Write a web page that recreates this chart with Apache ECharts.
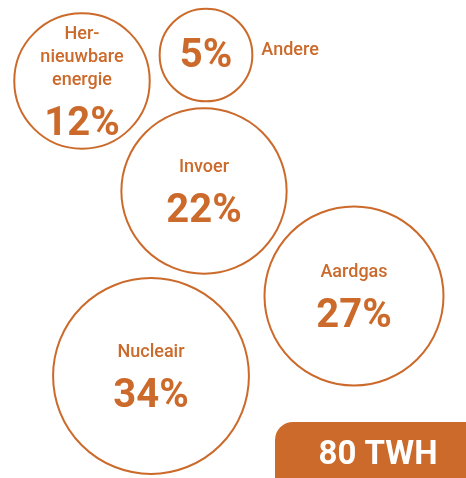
<!DOCTYPE html>
<html>
<head>
<meta charset="utf-8">
<script src="https://cdn.jsdelivr.net/npm/echarts@6/dist/echarts.min.js"></script>
<style>
  html, body { margin: 0; padding: 0; background: #fff; }
  #chart { width: 466px; height: 478px; }
</style>
</head>
<body>
<div id="chart"></div>
<script>
// energy mix (share of 80 TWh)
const sources = ['Hernieuwbare energie', 'Andere', 'Invoer', 'Aardgas', 'Nucleair'];
const labels = ['Her-\nnieuwbare\nenergie', 'Andere', 'Invoer', 'Aardgas', 'Nucleair'];
const shares = [12, 5, 22, 27, 34];
const total = '80 TWH';

// bubble layout (centre positions in pixel space)
const posX = [82, 206, 204, 354, 151];
const posY = [81, 55, 191, 296, 376];

const orange = '#CB6A2B';

const bubbleSize = v => 49.5 * Math.pow(v, 0.39) + (v === 12 ? 5 : 0);

const chart = echarts.init(document.getElementById('chart'));

const bubbles = shares.map((v, i) => ({
  name: sources[i],
  value: [posX[i], posY[i], v],
  label: i === 1
    ? { formatter: '{p|' + v + '%}', offset: [0, 2] }
    : { formatter: '{n|' + labels[i] + '}\n{p|' + v + '%}' }
}));

chart.setOption({
  animation: false,
  grid: { left: 0, right: 0, top: 0, bottom: 0 },
  xAxis: { type: 'value', min: 0, max: 466, show: false },
  yAxis: { type: 'value', min: 0, max: 478, inverse: true, show: false },
  series: [
    {
      type: 'scatter',
      data: bubbles,
      symbolSize: d => bubbleSize(d[2]),
      itemStyle: { color: '#fff', borderColor: orange, borderWidth: 2, opacity: 1 },
      label: {
        show: true,
        position: 'inside',
        align: 'center',
        offset: [0, 9],
        rich: {
          n: { fontFamily: 'Roboto', fontSize: 18, fontWeight: 500, color: orange, lineHeight: 23, align: 'center' },
          p: { fontFamily: 'Roboto', fontSize: 40, fontWeight: 'bold', color: orange, lineHeight: 65, align: 'center' }
        }
      },
      emphasis: { disabled: true }
    },
    {
      // name placed outside the small bubble
      type: 'scatter',
      data: [{ name: sources[1], value: [posX[1], posY[1], shares[1]] }],
      symbolSize: d => bubbleSize(d[2]),
      itemStyle: { color: 'rgba(0,0,0,0)', opacity: 1 },
      label: {
        show: true,
        position: 'right',
        distance: 9,
        formatter: labels[1],
        fontFamily: 'Roboto',
        fontSize: 18,
        fontWeight: 500,
        color: orange,
        offset: [0, -5]
      },
      emphasis: { disabled: true },
      silent: true
    }
  ],
  graphic: [
    {
      type: 'rect',
      left: 275,
      top: 422,
      shape: { width: 220, height: 80, r: 18 },
      style: { fill: orange }
    },
    {
      type: 'text',
      x: 378,
      y: 456,
      style: {
        text: total,
        fontFamily: 'Roboto',
        fontSize: 33,
        fontWeight: 'bold',
        fill: '#fff',
        align: 'center',
        verticalAlign: 'middle'
      }
    }
  ]
});
</script>
</body>
</html>
